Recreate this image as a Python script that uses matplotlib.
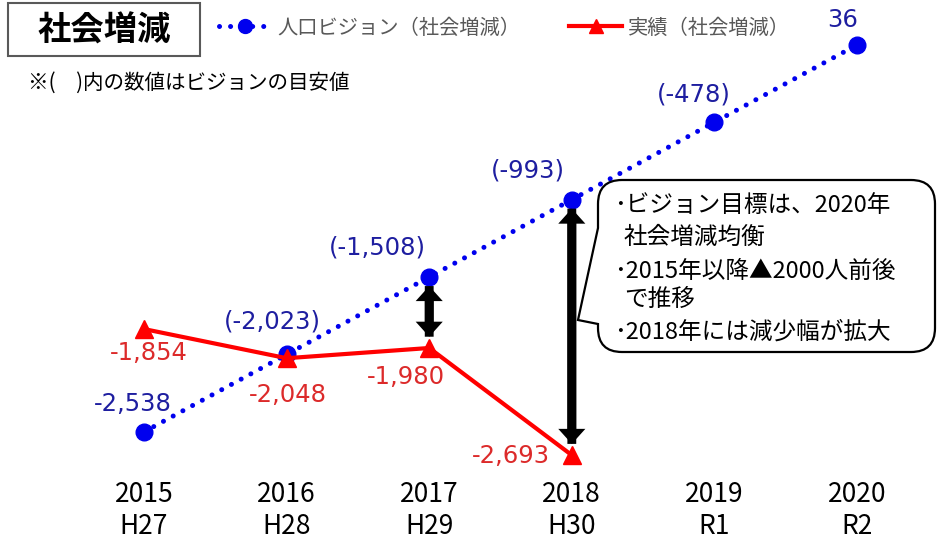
import matplotlib.pyplot as plt
from matplotlib.path import Path
from matplotlib.patches import PathPatch, Rectangle
from matplotlib.lines import Line2D

plt.rcParams['font.family'] = ['Noto Sans CJK JP', 'DejaVu Sans']

# data
years = [2015, 2016, 2017, 2018, 2019, 2020]
era_labels = ['H27', 'H28', 'H29', 'H30', 'R1', 'R2']
vision = [-2538, -2023, -1508, -993, -478, 36]      # 人口ビジョン（社会増減）
actual = [-1854, -2048, -1980, -2693]               # 実績（社会増減）
arrow_years = [2017, 2018]

notes = ['･ビジョン目標は、2020年', '社会増減均衡', '･2015年以降▲2000人前後',
         'で推移', '･2018年には減少幅が拡大']

BLUE = '#0000EE'
BLUE_TXT = '#1E1EA0'
RED = '#FF0000'
RED_TXT = '#DC2A2A'
GRAY = '#595959'

W, H = 938, 541
fig = plt.figure(figsize=(W / 100, H / 100), dpi=100)
ax = fig.add_axes([0, 0, 1, 1])
ax.set_xlim(2013.99, 2020.568)
ax.set_ylim(-3264, 335)
ax.axis('off')


def frac(x, y):
    # pixel position (y from top) -> axes fraction
    return (x / W, 1 - y / H)


ax.plot(years, vision, color=BLUE, lw=3.6, linestyle=(0, (0.01, 2.2)),
        dash_capstyle='round', marker='o', ms=12, zorder=3)
ax.plot(years[:len(actual)], actual, color=RED, lw=3, marker='^', ms=13,
        zorder=4)

# data labels (offsets in px)
vis_off = [(-11, 28), (-14, 33), (-52, 30), (-44, 29), (-21, 28), (-14, 25)]
act_off = [(5, -24), (1, -37), (-23, -29), (-61, -1)]
lab_font = ['DejaVu Sans']

for i, (x, v) in enumerate(zip(years, vision)):
    txt = f'{v:,}' if i in (0, len(vision) - 1) else f'({v:,})'
    dx, dy = vis_off[i]
    ax.annotate(txt, (x, v), xytext=(dx * 0.72, dy * 0.72),
                textcoords='offset points', ha='center', va='center',
                color=BLUE_TXT, fontsize=17.5, family=lab_font, zorder=6)

for i, (x, v) in enumerate(zip(years, actual)):
    dx, dy = act_off[i]
    ax.annotate(f'{v:,}', (x, v), xytext=(dx * 0.72, dy * 0.72),
                textcoords='offset points', ha='center', va='center',
                color=RED_TXT, fontsize=17.5, family=lab_font, zorder=6)

# x labels
xt = ax.get_xaxis_transform()
for x, e in zip(years, era_labels):
    ax.text(x, 1 - 495 / H, str(x), transform=xt, ha='center', va='center',
            fontsize=19)
    ax.text(x, 1 - 527 / H, e, transform=xt, ha='center', va='center',
            fontsize=19)

# gap arrows (two single-headed arrows laid over each other)
for yr in arrow_years:
    i = years.index(yr)
    top = vision[i] - 60
    bot = actual[i] + 75
    for start, end in ((bot, top), (top, bot)):
        ax.arrow(yr, start, 0, end - start, width=0.062, head_width=0.19,
                 head_length=100, length_includes_head=True, fc='black',
                 ec='none', zorder=5)

# callout box
L, R, T, B, r = 598, 935, 180, 352, 24
verts = [frac(L + r, T), frac(R - r, T), frac(R, T), frac(R, T + r),
         frac(R, B - r), frac(R, B), frac(R - r, B), frac(L + r, B),
         frac(L, B), frac(L, B - r), frac(L, 324), frac(578, 320),
         frac(L, 228), frac(L, T + r), frac(L, T), frac(L + r, T), (0, 0)]
codes = [Path.MOVETO, Path.LINETO, Path.CURVE3, Path.CURVE3, Path.LINETO,
         Path.CURVE3, Path.CURVE3, Path.LINETO, Path.CURVE3, Path.CURVE3,
         Path.LINETO, Path.LINETO, Path.LINETO, Path.LINETO, Path.CURVE3,
         Path.CURVE3, Path.CLOSEPOLY]
ax.add_patch(PathPatch(Path(verts, codes), fc='white', ec='black', lw=1.6,
                       transform=ax.transAxes, zorder=7))

note_x = [614, 624, 614, 624, 614]
note_y = [205, 237, 271, 299, 332]
for t, x, y in zip(notes, note_x, note_y):
    ax.text(*frac(x, y), t, transform=ax.transAxes, ha='left', va='center',
            fontsize=17, zorder=8)

# title box
ax.add_patch(Rectangle(frac(8, 56), 192 / W, 53 / H, transform=ax.transAxes,
                       fc='white', ec=GRAY, lw=1.5, zorder=7))
ax.text(*frac(104, 31), '社会増減', transform=ax.transAxes, ha='center',
        va='center', fontsize=24, fontweight='bold', zorder=8)

ax.text(*frac(28, 83), '※(\u3000)内の数値はビジョンの目安値',
        transform=ax.transAxes, ha='left', va='center', fontsize=14.8)

# legend
handles = [
    Line2D([], [], color=BLUE, lw=3.6, linestyle=(0, (0.01, 2.2)),
           dash_capstyle='round', marker='o', ms=10),
    Line2D([], [], color=RED, lw=3, marker='^', ms=10),
]
ax.legend(handles, ['人口ビジョン（社会増減）', '実績（社会増減）'], ncol=2,
          loc='center left', bbox_to_anchor=frac(219, 28), frameon=False,
          fontsize=14.6, labelcolor=GRAY, handlelength=2.6, handletextpad=0.3,
          columnspacing=2.4, borderpad=0, borderaxespad=0, numpoints=1)

fig.savefig('out.png', dpi=100)
